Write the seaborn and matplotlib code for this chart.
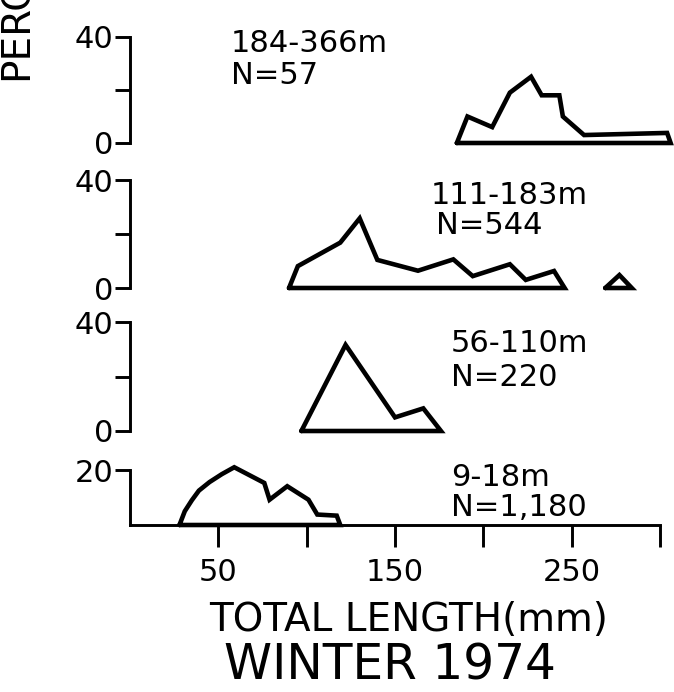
import matplotlib
matplotlib.use("Agg")
import matplotlib.pyplot as plt
import seaborn as sns
import pandas as pd

# ---------------- data (total length in mm, percent) ----------------
len_184_366 = [185, 191, 205, 215, 227, 233, 243, 245, 257, 304, 306]
pct_184_366 = [0, 10, 6, 19, 25, 18, 18, 10, 3, 3.8, 0]

len_111_183 = [90, 95, 119, 130, 140, 163, 183, 194, 215, 224, 240, 246]
pct_111_183 = [0, 8.1, 16.8, 25.8, 10.4, 6.4, 10.6, 4.4, 8.8, 3, 6.3, 0]
len_111_183_b = [269, 277, 284]
pct_111_183_b = [0, 4.8, 0]

len_56_110 = [97, 122, 150, 166, 176]
pct_56_110 = [0, 31.6, 5, 8.3, 0]

len_9_18 = [28, 31, 35, 39, 45, 52, 59, 76, 79, 89, 101, 106, 117, 119]
pct_9_18 = [0, 5, 9, 12.5, 15.6, 18.5, 21, 15.3, 9.2, 14.1, 9.2, 3.8, 3.4, 0]

depth_labels = ["184-366m", "111-183m", "56-110m", "9-18m"]
n_labels = ["N=57", "N=544", "N=220", "N=1,180"]
x_ticks = [50, 100, 150, 200, 250, 300]
x_tick_labels = ["50", "", "150", "", "250", ""]

# ---------------- layout ----------------
W, H = 674, 692
sns.set_theme(style="white")
plt.rcParams["font.family"] = ["DejaVu Sans"]
fig = plt.figure(figsize=(W / 100, H / 100), dpi=100)
fig.patch.set_facecolor("white")

LW = 3.3
AXLW = 2.1
FS = 22


def make_ax(bot_px, top_px, ymax):
    ax = fig.add_axes([130 / W, (H - bot_px) / H, 544 / W, (bot_px - top_px) / H])
    ax.set_xlim(0, 307.9)
    ax.set_ylim(0, ymax)
    ax.set_facecolor("none")
    for s in ["top", "right", "bottom"]:
        ax.spines[s].set_visible(False)
    ax.spines["left"].set_linewidth(AXLW)
    ax.spines["left"].set_color("black")
    ax.tick_params(axis="y", direction="out", length=11, width=AXLW,
                   labelsize=FS, pad=1, colors="black", left=True)
    ax.set_xticks([])
    ax.set_xlabel("")
    ax.set_ylabel("")
    ax.grid(False)
    return ax


def draw_poly(ax, xs, ys):
    xs = list(xs) + [xs[0]]
    ys = list(ys) + [ys[0]]
    df = pd.DataFrame({"x": xs, "y": ys})
    sns.lineplot(data=df, x="x", y="y", sort=False, estimator=None, ax=ax,
                 color="black", linewidth=LW, clip_on=False)
    ax.lines[-1].set_solid_joinstyle("miter")
    ax.set_xlabel("")
    ax.set_ylabel("")


panels = [
    (143, 37, 40, [(len_184_366, pct_184_366)]),
    (288, 180, 40, [(len_111_183, pct_111_183), (len_111_183_b, pct_111_183_b)]),
    (431, 322, 40, [(len_56_110, pct_56_110)]),
    (525, 470, 20, [(len_9_18, pct_9_18)]),
]

axes = []
for bot, top, ymax, series in panels:
    ax = make_ax(bot, top, ymax)
    for xs, ys in series:
        draw_poly(ax, xs, ys)
    axes.append(ax)

for ax in axes[:3]:
    ax.set_yticks([0, 20, 40])
    ax.set_yticklabels(["0", "", "40"])
    ax.spines["left"].set_bounds(0, 40)

ax4 = axes[3]
ax4.set_yticks([20])
ax4.set_yticklabels(["20"])
ax4.spines["left"].set_bounds(0, 20)
ax4.spines["bottom"].set_visible(True)
ax4.spines["bottom"].set_linewidth(AXLW)
ax4.spines["bottom"].set_color("black")
ax4.spines["bottom"].set_bounds(0, 300)
ax4.set_xticks(x_ticks)
ax4.set_xticklabels(x_tick_labels)
ax4.tick_params(axis="x", direction="out", length=16, width=AXLW,
                labelsize=FS, pad=8, colors="black", bottom=True)

# ---------------- annotations (figure pixel coords) ----------------
def ftext(x_px, y_px, s, **kw):
    fig.text(x_px / W, (H - y_px) / H, s, **kw)

label_pos = [(231, 44, 231, 76), (431, 196, 436, 226),
             (451, 344, 451, 378), (451, 477, 451, 507)]
for (dx, dy, nx, ny), d, n in zip(label_pos, depth_labels, n_labels):
    ftext(dx, dy, d, fontsize=FS, ha="left", va="center", color="black")
    ftext(nx, ny, n, fontsize=FS, ha="left", va="center", color="black")

ftext(409, 620, "TOTAL LENGTH(mm)", fontsize=28, ha="center", va="center", color="black")
ftext(390, 666, "WINTER 1974", fontsize=35, ha="center", va="center", color="black")
ftext(17, 80, "PERCENT", fontsize=28, ha="center", va="bottom", rotation=90, color="black")

fig.savefig("out.png", dpi=100, facecolor="white")
